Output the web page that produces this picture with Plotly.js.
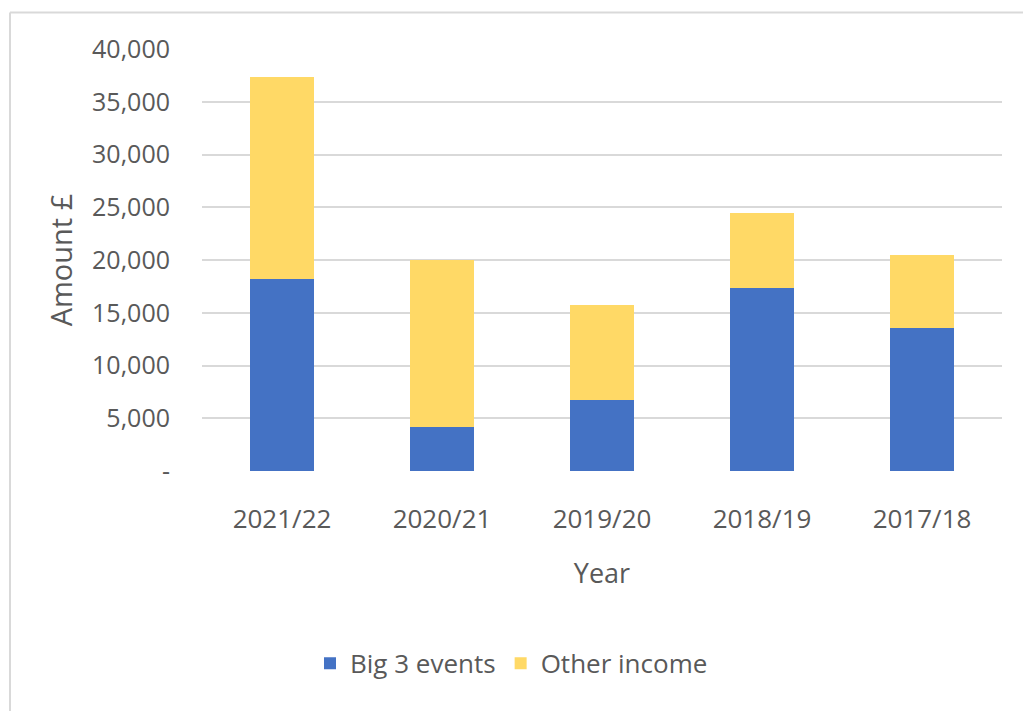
<!DOCTYPE html>
<html>
<head>
<meta charset="utf-8">
<script src="https://cdn.plot.ly/plotly-3.0.1.min.js"></script>
<style>html,body{margin:0;padding:0;background:#fff;}#chart{width:1023px;height:711px;}</style>
</head>
<body>
<div id="chart"></div>
<script>
const years = ["2021/22", "2020/21", "2019/20", "2018/19", "2017/18"];
const big3Events = [18160, 4210, 6770, 17310, 13590];
const otherIncome = [19230, 15780, 9000, 7170, 6910];
const yTickVals = [0, 5000, 10000, 15000, 20000, 25000, 30000, 35000, 40000];
const yTickText = ["-", "5,000", "10,000", "15,000", "20,000", "25,000", "30,000", "35,000", "40,000"];

const textColor = "#595959";
const fontFamily = "'Open Sans', 'Noto Sans', sans-serif";

const data = [
  {type: "bar", name: "Big 3 events", x: years, y: big3Events,
   marker: {color: "#4472C4"}, hoverinfo: "x+y+name"},
  {type: "bar", name: "Other income", x: years, y: otherIncome,
   marker: {color: "#FFD966"}, hoverinfo: "x+y+name"}
];

const layout = {
  width: 1023, height: 711,
  paper_bgcolor: "#ffffff", plot_bgcolor: "#ffffff",
  barmode: "stack", bargap: 0.6,
  margin: {l: 202, r: 21, t: 49, b: 240, pad: 0},
  font: {family: fontFamily, color: textColor, size: 26},
  showlegend: true,
  legend: {orientation: "h", traceorder: "normal", xref: "container", yref: "container",
           x: 0.5, xanchor: "center", y: 0.067, yanchor: "middle",
           font: {size: 26, color: textColor}, itemwidth: 30, tracegroupgap: 0},
  xaxis: {
    type: "category", showgrid: false, zeroline: false, showline: false,
    ticks: "outside", ticklen: 25, tickcolor: "rgba(0,0,0,0)",
    tickfont: {size: 26, color: textColor},
    title: {text: "Year", font: {size: 27, color: textColor}, standoff: 28},
    automargin: false, fixedrange: true
  },
  yaxis: {
    range: [0, 40000], tickvals: yTickVals, ticktext: yTickText,
    showgrid: true, gridcolor: "#D9D9D9", gridwidth: 2,
    zeroline: false, showline: false,
    ticks: "outside", ticklen: 26, tickcolor: "rgba(0,0,0,0)",
    tickfont: {size: 25, color: textColor},
    title: {text: "Amount £", font: {size: 29, color: textColor}, standoff: 10},
    automargin: false, fixedrange: true
  },
  shapes: [
    {type: "line", xref: "paper", yref: "paper", x0: -0.24, x1: 1.03, y0: 1.0865, y1: 1.0865,
     line: {color: "#D9D9D9", width: 2}, layer: "below"},
    {type: "line", xref: "paper", yref: "paper", x0: -0.24, x1: -0.24, y0: 1.0865, y1: -0.6,
     line: {color: "#D9D9D9", width: 2}, layer: "below"}
  ]
};

Plotly.newPlot("chart", data, layout, {displayModeBar: false, staticPlot: true});
</script>
</body>
</html>
